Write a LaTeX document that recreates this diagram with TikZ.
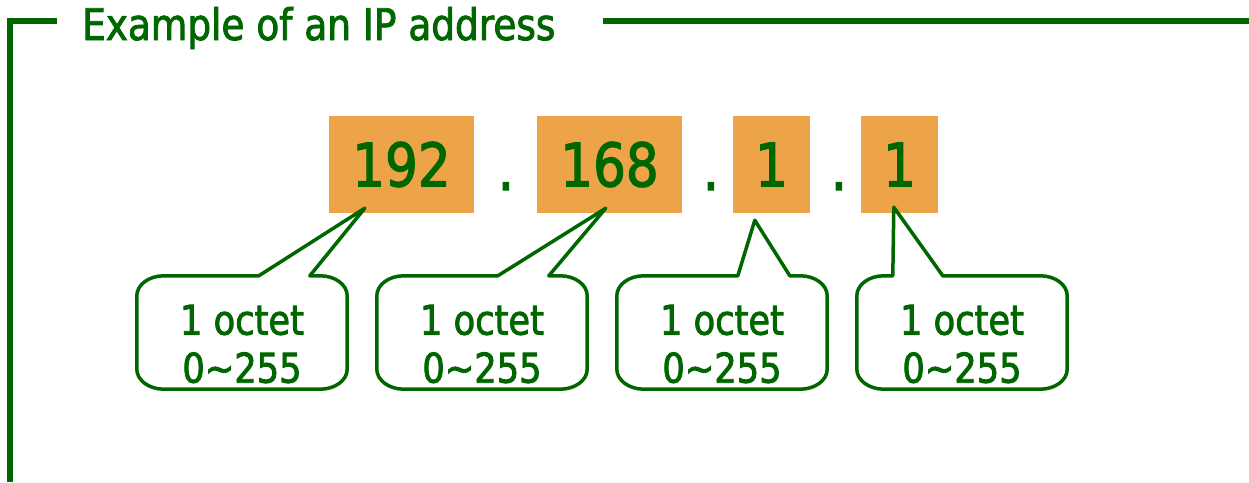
\documentclass[tikz,border=0pt]{standalone}
\usepackage{fontspec}
\setmainfont[FakeStretch=0.86, FakeBold=2]{DejaVu Sans}
\usepackage{tikz}
\usetikzlibrary{calc}
\definecolor{ipgreen}{RGB}{0,102,0}
\definecolor{iporange}{RGB}{237,164,73}
\tikzset{
    frame_line/.style={
        line width=6pt, draw=ipgreen
    },
    title_text/.style={
        anchor=base west, inner sep=0pt, text=ipgreen, font=\fontsize{43.5}{50}\selectfont
    },
    octet_box/.style={
        rectangle, fill=iporange, minimum height=97pt, inner sep=0pt,
        text=ipgreen, font=\fontsize{60}{70}\selectfont
    },
    dot_text/.style={
        anchor=base, inner sep=0pt, text=ipgreen, font=\fontsize{60}{70}\selectfont
    },
    bubble/.style={
        rectangle, minimum width=210pt, minimum height=113pt, inner sep=0pt
    },
    bubble_text/.style={
        align=center, inner sep=0pt, text=ipgreen, font=\fontsize{41}{48}\selectfont
    },
    bubble_line/.style={
        line width=3.5pt, draw=ipgreen, line join=round
    }
}
% callout outline: #1 node, #2/#3 pointer base (from north west), #4 tip
\newcommand{\drawbubble}[4]{%
    \draw[bubble_line] ($(#1.north west)+(#2,0)$) -- (#4) -- ($(#1.north west)+(#3,0)$)
        -- ($(#1.north east)+(-27,0)$)
        .. controls ($(#1.north east)+(-12,0)$) and ($(#1.north east)+(0,9)$) .. ($(#1.north east)+(0,20)$)
        -- ($(#1.south east)+(0,-20)$)
        .. controls ($(#1.south east)+(0,-9)$) and ($(#1.south east)+(-12,0)$) .. ($(#1.south east)+(-27,0)$)
        -- ($(#1.south west)+(27,0)$)
        .. controls ($(#1.south west)+(12,0)$) and ($(#1.south west)+(0,-9)$) .. ($(#1.south west)+(0,-20)$)
        -- ($(#1.north west)+(0,20)$)
        .. controls ($(#1.north west)+(0,9)$) and ($(#1.north west)+(12,0)$) .. ($(#1.north west)+(27,0)$)
        -- cycle;}

\begin{document}
\begin{tikzpicture}[x=1pt, y=-1pt]
    \useasboundingbox (0,0) rectangle (1249,482);

    % Frame with title
    \node[title_text] (title) at (82, 40) {Example of an IP address};
    \coordinate (frame_bottom) at (10, 482);
    \coordinate (frame_corner) at (10, 21);
    \coordinate (frame_end) at (1249, 21);
    \draw[frame_line] (frame_bottom) -- (frame_corner) -- ([xshift=-25pt]title.west |- frame_corner);
    \draw[frame_line] ([xshift=47pt]title.east |- frame_corner) -- (frame_end);

    % Address
    \node[octet_box, minimum width=145pt] (oct1) at (401.5, 164.5) {192};
    \node[dot_text] (dot1) at (506, 190) {.};
    \node[octet_box, minimum width=145pt] (oct2) at (609.5, 164.5) {168};
    \node[dot_text] (dot2) at (711, 190) {.};
    \node[octet_box, minimum width=77pt] (oct3) at (771.5, 164.5) {1};
    \node[dot_text] (dot3) at (839, 190) {.};
    \node[octet_box, minimum width=77pt] (oct4) at (899.5, 164.5) {1};

    % Callouts
    \node[bubble] (info1) at (242, 332.5) {};
    \node[bubble] (info2) at (482, 332.5) {};
    \node[bubble] (info3) at (722, 332.5) {};
    \node[bubble] (info4) at (962, 332.5) {};
    \node[bubble_text] (label1) at (242, 344) {1 octet\\0\textasciitilde255};
    \node[bubble_text] (label2) at (482, 344) {1 octet\\0\textasciitilde255};
    \node[bubble_text] (label3) at (722, 344) {1 octet\\0\textasciitilde255};
    \node[bubble_text] (label4) at (962, 344) {1 octet\\0\textasciitilde255};

    % Pointers
    \coordinate (tip1) at ($(oct1.south west)+(36,-5)$);
    \coordinate (tip2) at ($(oct2.south west)+(69,-5)$);
    \coordinate (tip3) at ($(oct3.south west)+(22,7)$);
    \coordinate (tip4) at ($(oct4.south west)+(33,-6)$);
    \drawbubble{info1}{122}{173}{tip1}
    \drawbubble{info2}{121}{172}{tip2}
    \drawbubble{info3}{121}{173}{tip3}
    \drawbubble{info4}{36}{86}{tip4}
\end{tikzpicture}
\end{document}
